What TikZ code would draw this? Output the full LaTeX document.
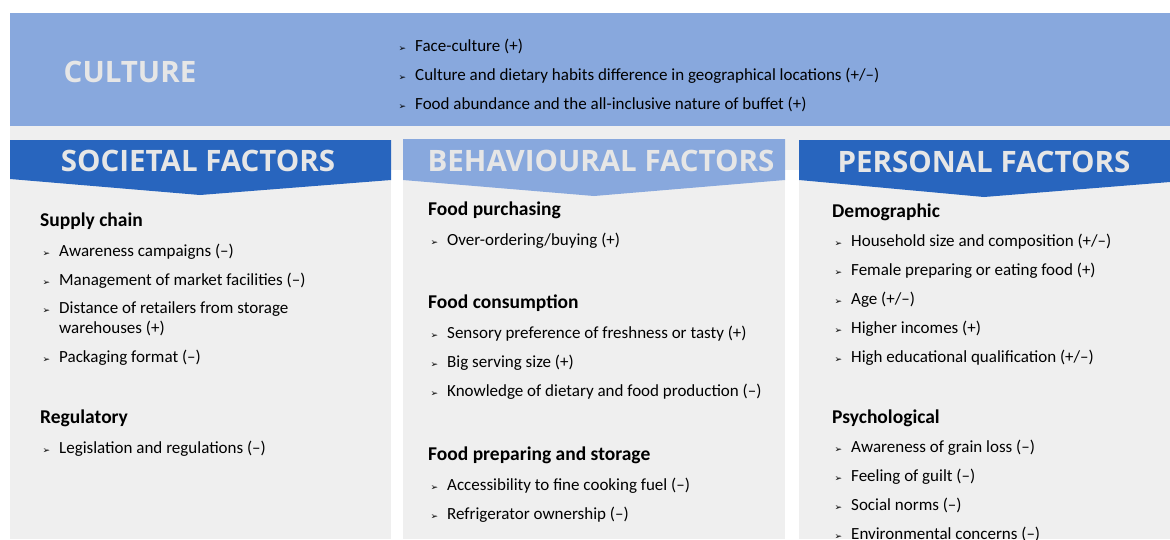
\documentclass[tikz,border=0pt]{standalone}
\usepackage{fontspec}
\setmainfont{Carlito}
\newfontfamily\headfont{Open Sans}
\newfontfamily\symfont{DejaVu Sans}
\usetikzlibrary{positioning}

\definecolor{cultureblue}{HTML}{88A8DD}
\definecolor{darkblue}{HTML}{2865BE}
\definecolor{panelgray}{HTML}{EFEFEF}
\definecolor{headtext}{HTML}{E6E6E6}

\newcommand{\bul}{\llap{{\symfont\fontsize{9}{9}\selectfont ➢}\hspace{9pt}}}

\tikzset{
  item/.style={anchor=base west, inner sep=0pt, font=\fontsize{17}{19}\selectfont},
  subhead/.style={anchor=base west, inner sep=0pt, font=\fontsize{19.5}{21}\selectfont\bfseries},
  banner/.style={font=\headfont\bfseries\fontsize{29.5}{31}\selectfont, text=headtext, inner sep=0pt},
}

\begin{document}
\begin{tikzpicture}[x=1pt,y=-1pt]
            \useasboundingbox (0,0) rectangle (1170,539);
            \fill[white] (0,0) rectangle (1170,539);

            % Band oben
            \fill[cultureblue] (10,13) rectangle (1170,126);
            \fill[panelgray] (10,126) rectangle (1170,170);

            % Spalten
            \fill[panelgray] (10,170) rectangle (391,539);
            \fill[panelgray] (403,170) rectangle (785,539);
            \fill[panelgray] (799,170) rectangle (1170,539);

            % Ecken der Banner
            \coordinate (s0) at (10,140);
            \coordinate (s1) at (391,140);
            \coordinate (s2) at (391,180);
            \coordinate (s3) at (200,195);
            \coordinate (s4) at (10,179);

            \coordinate (b0) at (403,139);
            \coordinate (b1) at (785,139);
            \coordinate (b2) at (785,180);
            \coordinate (b3) at (594,196);
            \coordinate (b4) at (403,180);

            \coordinate (p0) at (799,140);
            \coordinate (p1) at (1170,140);
            \coordinate (p2) at (1170,182);
            \coordinate (p3) at (984,197);
            \coordinate (p4) at (799,180);

            \fill[darkblue] (s0) -- (s1) -- (s2) -- (s3) -- (s4) -- cycle;
            \fill[cultureblue] (b0) -- (b1) -- (b2) -- (b3) -- (b4) -- cycle;
            \fill[darkblue] (p0) -- (p1) -- (p2) -- (p3) -- (p4) -- cycle;

            % Titel
            \node[banner] (culture) at (130,72) {CULTURE};
            \node[banner] (societal) at (198,161) {SOCIETAL FACTORS};
            \node[banner] (behavioural) at (601,161) {BEHAVIOURAL FACTORS};
            \node[banner] (personal) at (984,162) {PERSONAL FACTORS};

            % Kultur
            \node[item] (cult1) at (415,51) {\bul Face-culture (+)};
            \node[item] (cult2) at (415,80) {\bul Culture and dietary habits difference in geographical locations (+/–)};
            \node[item] (cult3) at (415,109) {\bul Food abundance and the all-inclusive nature of buffet (+)};

            % linke Spalte
            \node[subhead] (supply) at (40,226) {Supply chain};
            \node[item] (sup1) at (59,256) {\bul Awareness campaigns (–)};
            \node[item] (sup2) at (59,285) {\bul Management of market facilities (–)};
            \node[item] (sup3) at (59,313) {\bul Distance of retailers from storage};
            \node[item] (sup3b) at (59,333) {warehouses (+)};
            \node[item] (sup4) at (59,362) {\bul Packaging format (–)};

            \node[subhead] (regulatory) at (40,423) {Regulatory};
            \node[item] (reg1) at (59,453) {\bul Legislation and regulations (–)};

            % mittlere Spalte
            \node[subhead] (purchasing) at (428,215) {Food purchasing};
            \node[item] (pur1) at (447,245) {\bul Over-ordering/buying (+)};

            \node[subhead] (consumption) at (428,308) {Food consumption};
            \node[item] (con1) at (447,338) {\bul Sensory preference of freshness or tasty (+)};
            \node[item] (con2) at (447,367) {\bul Big serving size (+)};
            \node[item] (con3) at (447,396) {\bul Knowledge of dietary and food production (–)};

            \node[subhead] (preparing) at (428,460) {Food preparing and storage};
            \node[item] (pre1) at (447,490) {\bul Accessibility to fine cooking fuel (–)};
            \node[item] (pre2) at (447,519) {\bul Refrigerator ownership (–)};

            % rechte Spalte
            \node[subhead] (demographic) at (832,217) {Demographic};
            \node[item] (dem1) at (851,246) {\bul Household size and composition (+/–)};
            \node[item] (dem2) at (851,275) {\bul Female preparing or eating food (+)};
            \node[item] (dem3) at (851,304) {\bul Age (+/–)};
            \node[item] (dem4) at (851,333) {\bul Higher incomes (+)};
            \node[item] (dem5) at (851,362) {\bul High educational qualification (+/–)};

            \node[subhead] (psychological) at (832,423) {Psychological};
            \node[item] (psy1) at (851,452) {\bul Awareness of grain loss (–)};
            \node[item] (psy2) at (851,481) {\bul Feeling of guilt (–)};
            \node[item] (psy3) at (851,510) {\bul Social norms (–)};
            \node[item] (psy4) at (851,539) {\bul Environmental concerns (–)};
        \end{tikzpicture}
\end{document}
